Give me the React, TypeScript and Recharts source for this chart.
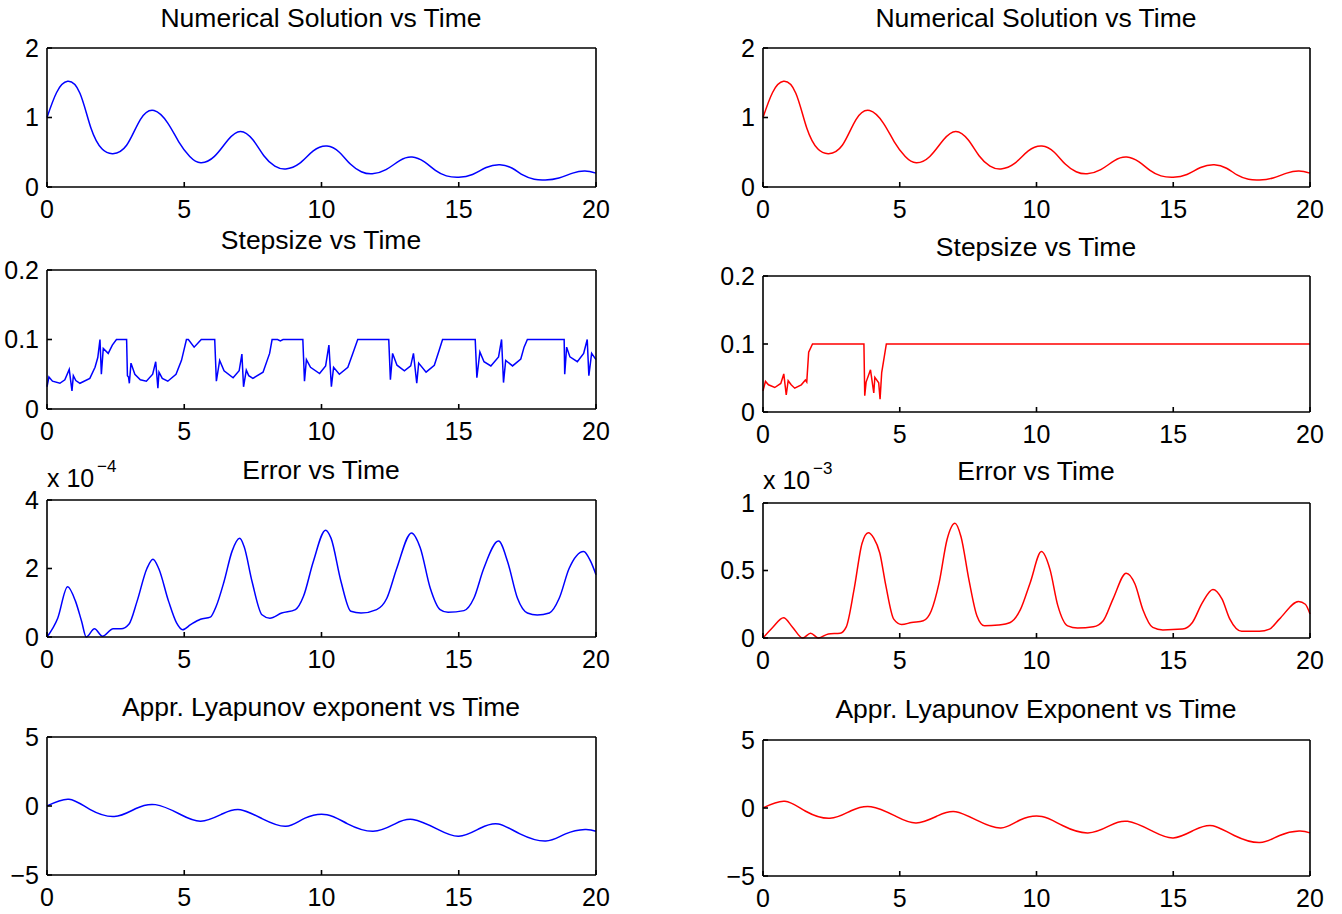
import { LineChart, Line, XAxis, YAxis } from "recharts"

// time axis shared by every panel
const timeTicks = [0, 5, 10, 15, 20]

// numerical solution (same on both sides)
const solT = [0, 0.35, 0.75, 1.2, 1.6, 2.0, 2.4, 2.9, 3.4, 3.9, 4.4, 4.8, 5.2, 5.6, 6.1, 6.6, 7.05, 7.5, 7.9, 8.3, 8.7, 9.2, 9.7, 10.2, 10.65, 11.05, 11.45, 11.85, 12.35, 12.85, 13.3, 13.75, 14.15, 14.55, 15.0, 15.5, 16.0, 16.5, 16.95, 17.35, 17.75, 18.15, 18.65, 19.15, 19.6, 20]
const solY = [1.0, 1.36, 1.52, 1.35, 0.85, 0.55, 0.48, 0.6, 0.97, 1.1, 0.92, 0.65, 0.44, 0.35, 0.44, 0.68, 0.8, 0.68, 0.45, 0.3, 0.26, 0.34, 0.52, 0.59, 0.5, 0.33, 0.22, 0.19, 0.25, 0.38, 0.43, 0.36, 0.24, 0.16, 0.14, 0.18, 0.28, 0.32, 0.27, 0.17, 0.11, 0.1, 0.13, 0.2, 0.23, 0.2]

// stepsize, left (blue)
const stepLT = [0, 0.07, 0.2, 0.47, 0.65, 0.81, 0.91, 0.96, 1.05, 1.2, 1.56, 1.75, 1.85, 1.93, 1.98, 2.05, 2.23, 2.38, 2.53, 2.9, 2.93, 2.97, 3.0, 3.06, 3.2, 3.4, 3.62, 3.85, 3.96, 4.04, 4.08, 4.2, 4.4, 4.7, 4.9, 5.08, 5.15, 5.36, 5.62, 6.11, 6.17, 6.29, 6.45, 6.78, 7.0, 7.1, 7.16, 7.26, 7.35, 7.5, 7.87, 8.11, 8.2, 8.4, 8.5, 8.6, 9.32, 9.38, 9.45, 9.6, 9.93, 10.15, 10.27, 10.36, 10.44, 10.65, 10.96, 11.14, 11.32, 12.45, 12.51, 12.59, 12.75, 13.02, 13.25, 13.35, 13.47, 13.54, 13.81, 14.11, 14.29, 14.41, 15.6, 15.66, 15.77, 15.92, 16.17, 16.45, 16.56, 16.63, 16.71, 16.96, 17.26, 17.38, 17.5, 18.84, 18.86, 18.93, 19.05, 19.32, 19.55, 19.68, 19.74, 19.84, 20]
const stepLY = [0.032, 0.046, 0.04, 0.037, 0.042, 0.057, 0.026, 0.048, 0.041, 0.037, 0.044, 0.06, 0.074, 0.1, 0.05, 0.087, 0.08, 0.092, 0.1, 0.1, 0.048, 0.046, 0.037, 0.066, 0.05, 0.042, 0.04, 0.05, 0.068, 0.03, 0.053, 0.044, 0.04, 0.05, 0.07, 0.1, 0.1, 0.089, 0.1, 0.1, 0.04, 0.07, 0.055, 0.045, 0.055, 0.079, 0.032, 0.056, 0.048, 0.044, 0.053, 0.08, 0.1, 0.1, 0.098, 0.1, 0.1, 0.04, 0.071, 0.06, 0.051, 0.062, 0.092, 0.032, 0.06, 0.05, 0.06, 0.08, 0.1, 0.1, 0.042, 0.08, 0.063, 0.055, 0.062, 0.08, 0.037, 0.066, 0.053, 0.063, 0.085, 0.1, 0.1, 0.045, 0.082, 0.068, 0.062, 0.075, 0.1, 0.038, 0.07, 0.062, 0.072, 0.089, 0.1, 0.1, 0.05, 0.089, 0.075, 0.068, 0.08, 0.1, 0.048, 0.08, 0.071]

// stepsize, right (red)
const stepRT = [0, 0.09, 0.2, 0.43, 0.65, 0.76, 0.85, 0.92, 1.03, 1.16, 1.4, 1.55, 1.6, 1.67, 1.81, 3.69, 3.72, 3.77, 3.93, 4.05, 4.09, 4.23, 4.28, 4.34, 4.51, 20]
const stepRY = [0.031, 0.045, 0.04, 0.036, 0.042, 0.056, 0.025, 0.046, 0.04, 0.035, 0.04, 0.047, 0.044, 0.088, 0.1, 0.1, 0.024, 0.044, 0.062, 0.028, 0.051, 0.043, 0.019, 0.058, 0.1, 0.1]

// error, left, in units of 1e-4
const errLT = [0, 0.39, 0.75, 1.04, 1.26, 1.43, 1.73, 2.02, 2.41, 2.7, 2.99, 3.28, 3.64, 3.86, 4.07, 4.43, 4.72, 4.94, 5.23, 5.59, 5.95, 6.16, 6.45, 6.74, 7.02, 7.18, 7.47, 7.83, 8.12, 8.55, 9.05, 9.34, 9.7, 10.15, 10.35, 10.71, 11.07, 11.44, 12.01, 12.38, 12.74, 13.28, 13.6, 13.96, 14.32, 14.61, 15.19, 15.55, 15.91, 16.45, 16.78, 17.14, 17.5, 17.86, 18.3, 18.66, 19.02, 19.55, 19.81, 20]
const errLY = [0, 0.55, 1.47, 1.04, 0.46, 0, 0.24, 0.02, 0.24, 0.24, 0.38, 1.04, 2.0, 2.27, 2.0, 1.04, 0.41, 0.21, 0.36, 0.52, 0.58, 0.89, 1.62, 2.5, 2.88, 2.64, 1.62, 0.65, 0.55, 0.7, 0.8, 1.18, 2.2, 3.12, 2.88, 1.62, 0.75, 0.7, 0.8, 1.13, 2.0, 3.04, 2.6, 1.43, 0.8, 0.72, 0.77, 1.13, 2.0, 2.8, 2.2, 1.13, 0.7, 0.64, 0.7, 1.13, 2.0, 2.5, 2.2, 1.82]

// error, right, in units of 1e-3
const errRT = [0, 0.36, 0.75, 1.08, 1.45, 1.74, 2.03, 2.39, 2.82, 3.04, 3.33, 3.62, 3.85, 4.05, 4.27, 4.49, 4.78, 5.07, 5.43, 5.86, 6.15, 6.44, 6.73, 7.02, 7.24, 7.53, 7.82, 8.1, 8.61, 9.04, 9.41, 9.77, 10.18, 10.49, 10.78, 11.14, 11.5, 12.08, 12.44, 12.8, 13.28, 13.6, 13.89, 14.25, 14.62, 15.34, 15.7, 16.06, 16.45, 16.78, 17.07, 17.5, 18.15, 18.52, 18.88, 19.58, 19.83, 20]
const errRY = [0, 0.08, 0.15, 0.08, 0, 0.035, 0, 0.03, 0.035, 0.08, 0.36, 0.7, 0.78, 0.74, 0.63, 0.39, 0.14, 0.1, 0.115, 0.128, 0.2, 0.41, 0.73, 0.85, 0.75, 0.43, 0.165, 0.09, 0.096, 0.115, 0.21, 0.41, 0.64, 0.51, 0.24, 0.09, 0.074, 0.083, 0.128, 0.29, 0.48, 0.4, 0.21, 0.079, 0.06, 0.066, 0.115, 0.26, 0.36, 0.29, 0.14, 0.05, 0.05, 0.066, 0.14, 0.27, 0.25, 0.177]

// approximate Lyapunov exponent (same on both sides)
const lyaT = [0, 0.8, 1.56, 2.45, 3.22, 3.95, 4.81, 5.6, 6.4, 7.05, 7.85, 8.7, 9.4, 10.2, 10.95, 11.88, 12.68, 13.33, 14.2, 15.0, 15.78, 16.45, 17.23, 18.17, 18.89, 19.6, 20]
const lyaY = [0, 0.49, -0.24, -0.76, -0.2, 0.1, -0.56, -1.1, -0.56, -0.27, -0.93, -1.47, -0.88, -0.63, -1.29, -1.83, -1.29, -0.98, -1.66, -2.2, -1.61, -1.3, -2.02, -2.54, -2.02, -1.7, -1.83]

const solTicks = [0, 1, 2]
const stepTicks = [0, 0.1, 0.2]
const errLTicks = [0, 2, 4]
const errRTicks = [0, 0.5, 1]
const lyaTicks = [-5, 0, 5]

const zip = (t: number[], v: number[]) => t.map((x, i) => ({ t: x, v: v[i] }))

const FONT = "'Liberation Sans', Arial, Helvetica, sans-serif"
const BLUE = "#0000ff"
const RED = "#ff0000"

type Box = { x0: number; y0: number; x1: number; y1: number }

interface PanelProps {
  box: Box
  data: { t: number; v: number }[]
  color: string
  ticks: number[]
  curve: "natural" | "monotone" | "linear"
}

function Panel({ box, data, color, ticks, curve }: PanelProps) {
  // plot area lands exactly on box; top/right axes are 1px wide so they render
  const ML = 70, MT = 24, MR = 34, MB = 44
  const w = box.x1 - box.x0 + ML + MR
  const h = box.y1 - box.y0 + MT + MB
  const domain = [ticks[0], ticks[ticks.length - 1]]
  const fmt = (v: number) => String(v).replace("-", "\u2212")
  const line = { stroke: "#000", strokeWidth: 1.6 }
  const tick = { fontSize: 25, fill: "#000", fontFamily: FONT }
  return (
    <div style={{ position: "absolute", left: box.x0 - ML, top: box.y0 - MT }}>
      <LineChart width={w} height={h} data={data} margin={{ top: MT - 1, right: MR - 1, bottom: 0, left: 0 }}>
        <XAxis xAxisId="b" dataKey="t" type="number" domain={[0, 20]} ticks={timeTicks} interval={0}
          height={MB} axisLine={line} tickLine={line} tickSize={-5} tickMargin={18} tick={tick} />
        <XAxis xAxisId="t" orientation="top" dataKey="t" type="number" domain={[0, 20]} ticks={timeTicks} interval={0}
          height={1} axisLine={line} tickLine={line} tickSize={-5} tick={false} />
        <YAxis yAxisId="l" type="number" domain={domain} ticks={ticks} interval={0} width={ML}
          axisLine={line} tickLine={line} tickSize={-5} tickMargin={13} tick={tick} tickFormatter={fmt} />
        <YAxis yAxisId="r" orientation="right" type="number" domain={domain} ticks={ticks} interval={0} width={1}
          axisLine={line} tickLine={line} tickSize={-5} tick={false} />
        <Line xAxisId="b" yAxisId="l" dataKey="v" type={curve} stroke={color} strokeWidth={1.5}
          dot={false} isAnimationActive={false} />
        <Line xAxisId="t" yAxisId="r" dataKey="v" type={curve} stroke="none" strokeWidth={0}
          dot={false} activeDot={false} legendType="none" isAnimationActive={false} />
      </LineChart>
    </div>
  )
}

const titles = [
  { text: "Numerical Solution vs Time", x: 321, y: 27 },
  { text: "Numerical Solution vs Time", x: 1036, y: 27 },
  { text: "Stepsize vs Time", x: 321, y: 249 },
  { text: "Stepsize vs Time", x: 1036, y: 256 },
  { text: "Error vs Time", x: 321, y: 479 },
  { text: "Error vs Time", x: 1036, y: 480 },
  { text: "Appr. Lyapunov exponent vs Time", x: 321, y: 716 },
  { text: "Appr. Lyapunov Exponent vs Time", x: 1036, y: 718 },
]

export default function App() {
  return (
    <div style={{ position: "absolute", left: 0, top: 0, width: 1342, height: 914, background: "#fff" }}>
      <Panel box={{ x0: 47, y0: 48, x1: 596, y1: 187 }} data={zip(solT, solY)} color={BLUE} ticks={solTicks} curve="natural" />
      <Panel box={{ x0: 763, y0: 48, x1: 1310, y1: 187 }} data={zip(solT, solY)} color={RED} ticks={solTicks} curve="natural" />
      <Panel box={{ x0: 47, y0: 270, x1: 596, y1: 409 }} data={zip(stepLT, stepLY)} color={BLUE} ticks={stepTicks} curve="linear" />
      <Panel box={{ x0: 763, y0: 276, x1: 1310, y1: 412 }} data={zip(stepRT, stepRY)} color={RED} ticks={stepTicks} curve="linear" />
      <Panel box={{ x0: 47, y0: 500, x1: 596, y1: 637 }} data={zip(errLT, errLY)} color={BLUE} ticks={errLTicks} curve="monotone" />
      <Panel box={{ x0: 763, y0: 503, x1: 1310, y1: 638 }} data={zip(errRT, errRY)} color={RED} ticks={errRTicks} curve="monotone" />
      <Panel box={{ x0: 47, y0: 737, x1: 596, y1: 875 }} data={zip(lyaT, lyaY)} color={BLUE} ticks={lyaTicks} curve="natural" />
      <Panel box={{ x0: 763, y0: 740, x1: 1310, y1: 876 }} data={zip(lyaT, lyaY)} color={RED} ticks={lyaTicks} curve="natural" />
      <svg width={1342} height={914} style={{ position: "absolute", left: 0, top: 0, pointerEvents: "none" }}
        fontFamily={FONT} fill="#000">
        {titles.map((t, i) => (
          <text key={i} x={t.x} y={t.y} fontSize={26.5} textAnchor="middle">{t.text}</text>
        ))}
        <text x={47} y={487} fontSize={25}>x 10</text>
        <text x={97} y={472} fontSize={17}>{"\u22124"}</text>
        <text x={763} y={489} fontSize={25}>x 10</text>
        <text x={813} y={474} fontSize={17}>{"\u22123"}</text>
      </svg>
    </div>
  )
}
